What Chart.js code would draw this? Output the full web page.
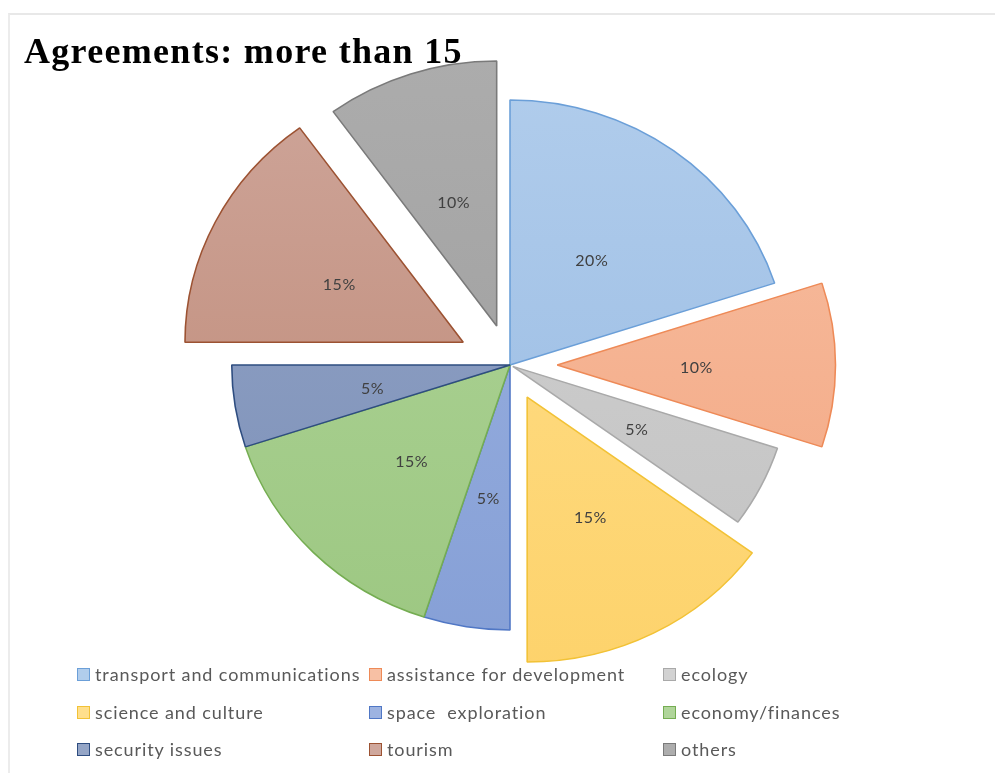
<!DOCTYPE html>
<html>
<head>
<meta charset="utf-8">
<script src="https://cdn.jsdelivr.net/npm/chart.js@4/dist/chart.umd.min.js"></script>
<style>
  html, body { margin: 0; padding: 0; background: #fff; }
  #wrap { position: relative; width: 995px; height: 773px; overflow: hidden; background: #fff; }
  #frame { position: absolute; left: 8px; top: 13px; width: 990px; height: 770px; border-top: 2px solid #e8e8e8; border-left: 2px solid #ececec; box-sizing: border-box; }
  #chart { position: absolute; left: 0; top: 0; }
  #title { position: absolute; left: 24px; top: 30px; font-family: "Liberation Serif", "DejaVu Serif", serif; font-weight: bold; font-size: 36px; color: #000; letter-spacing: 1.3px; white-space: nowrap; }
  #legend { position: absolute; left: 0; top: 0; width: 995px; height: 773px; pointer-events: none; }
  .item { position: absolute; display: flex; align-items: center; font-family: Lato, "Open Sans", sans-serif; font-size: 18px; letter-spacing: 0.9px; color: #595959; white-space: nowrap; }
  .box { width: 11px; height: 11px; border: 1.5px solid; margin-right: 5px; box-sizing: content-box; }
</style>
</head>
<body>
<div id="wrap">
  <div id="frame"></div>
  <canvas id="chart" width="995" height="773"></canvas>
  <div id="title">Agreements: more than 15</div>
  <div id="legend"></div>
</div>
<script>
const categories = [
  "transport and communications",
  "assistance for development",
  "ecology",
  "science and culture",
  "space  exploration",
  "economy/finances",
  "security issues",
  "tourism",
  "others"
];
const shares = [20, 10, 5, 15, 5, 15, 5, 15, 10];
const shareLabels = ["20%", "10%", "5%", "15%", "5%", "15%", "5%", "15%", "10%"];

const fillTop    = ["#b1cdec", "#f7c0a4", "#d2d2d2", "#ffdf8c", "#9db3e1", "#b0d59a", "#94a5c6", "#cfa79c", "#adadad"];
const fillBottom = ["#96b9e2", "#f3a57f", "#c2c2c2", "#fdd26a", "#859fd6", "#9cc781", "#7b8fb8", "#bd8672", "#9c9c9c"];
const edges      = ["#6b9fd8", "#ee8a57", "#a9a9a9", "#f2c236", "#5077c5", "#75ad52", "#2e4d80", "#9c5232", "#7a7a7a"];

const ctxEl = document.getElementById('chart');

function sliceFill(context) {
  const i = context.dataIndex;
  const chart = context.chart;
  if (i === undefined || !chart.chartArea) return fillTop[i || 0];
  const g = chart.ctx.createLinearGradient(0, 60, 0, 670);
  g.addColorStop(0, fillTop[i]);
  g.addColorStop(1, fillBottom[i]);
  return g;
}

// Draws each library arc shifted outward along its mid-angle (exploded pie),
// with the slight horizontal stretch seen in the original picture.
const explode = {
  id: 'explode',
  beforeDatasetDraw(chart, args, opts) {
    const ctx = chart.ctx;
    const offs = opts.offsets || [];
    const sx = opts.stretchX || 1;
    args.meta.data.forEach((arc, i) => {
      const mid = (arc.startAngle + arc.endAngle) / 2;
      const off = offs[i] || 0;
      ctx.save();
      ctx.translate(arc.x, arc.y);
      ctx.scale(sx, 1);
      ctx.translate(-arc.x, -arc.y);
      ctx.translate(Math.cos(mid) * off, Math.sin(mid) * off);
      arc.draw(ctx, chart.chartArea);
      ctx.restore();
    });
    return false;
  },
  afterDatasetsDraw(chart, args, opts) {
    const ctx = chart.ctx;
    const offs = opts.offsets || [];
    const sx = opts.stretchX || 1;
    const meta = chart.getDatasetMeta(0);
    ctx.save();
    ctx.font = '16px Lato, "Open Sans", sans-serif';
    if ('letterSpacing' in ctx) ctx.letterSpacing = '0.5px';
    ctx.fillStyle = '#404040';
    ctx.textAlign = 'center';
    ctx.textBaseline = 'middle';
    meta.data.forEach((arc, i) => {
      const p = arc.getProps(['x', 'y', 'startAngle', 'endAngle', 'outerRadius']);
      const mid = (p.startAngle + p.endAngle) / 2;
      const d = (offs[i] || 0) + p.outerRadius * 0.5;
      ctx.fillText(shareLabels[i], p.x + Math.cos(mid) * d * sx, p.y + Math.sin(mid) * d + 3);
    });
    ctx.restore();
  }
};

new Chart(ctxEl, {
  type: 'pie',
  data: {
    labels: categories,
    datasets: [{
      data: shares,
      backgroundColor: sliceFill,
      borderColor: edges,
      borderWidth: 1.5,
      offset: 0,
      hoverOffset: 0,
      clip: false
    }]
  },
  options: {
    responsive: false,
    animation: false,
    radius: 265,
    layout: { padding: { left: 25, right: 0, top: 0, bottom: 43 } },
    plugins: {
      legend: { display: false },
      tooltip: { enabled: false },
      title: { display: false },
      explode: { offsets: [0, 45, 3, 36, 0, 0, 0, 50, 41], stretchX: 1.05 }
    },
    events: []
  },
  plugins: [explode]
});

// HTML legend in a 3-column grid
const legend = document.getElementById('legend');
const colX = [77, 369, 663];
const rowY = [675, 713, 750];
categories.forEach((name, i) => {
  const div = document.createElement('div');
  div.className = 'item';
  div.style.left = colX[i % 3] + 'px';
  div.style.top = (rowY[Math.floor(i / 3)] - 12) + 'px';
  const box = document.createElement('span');
  box.className = 'box';
  box.style.background = fillTop[i];
  box.style.borderColor = edges[i];
  const txt = document.createElement('span');
  txt.textContent = name;
  txt.style.whiteSpace = 'pre';
  div.appendChild(box);
  div.appendChild(txt);
  legend.appendChild(div);
});
</script>
</body>
</html>
